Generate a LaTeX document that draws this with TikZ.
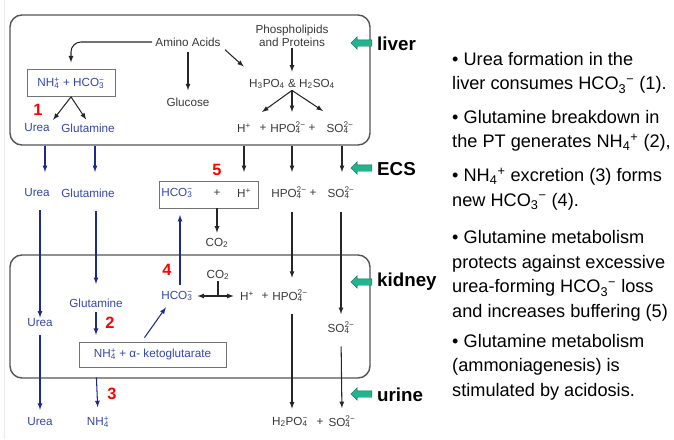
\documentclass[tikz,border=0pt]{standalone}
\usepackage{fontspec}
\setmainfont{Liberation Sans}
\usetikzlibrary{shapes.arrows}
\definecolor{txtgray}{HTML}{383838}
\definecolor{ionblue}{HTML}{3446A8}
\definecolor{arrblue}{HTML}{1C2A8C}
\definecolor{boxgray}{HTML}{555555}
\definecolor{tealgreen}{HTML}{22B48C}
\newcommand{\sbsp}[2]{%
  \setbox0=\hbox{\textsuperscript{#2}}%
  \setbox2=\hbox{\textsubscript{#1}}%
  \ifdim\wd0>\wd2 \rlap{\box2}\box0 \else\rlap{\box0}\box2 \fi}
\newcommand{\hcoiii}{HCO\sbsp{3}{−}}
\newcommand{\nhiv}{NH\sbsp{4}{+}}
\newcommand{\nhivtxt}{NH\textsubscript{4}\textsuperscript{+}}
\tikzset{
    chem/.style={text=txtgray, font=\fontsize{10}{12}\selectfont, inner sep=1pt},
    bchem/.style={chem, text=ionblue},
    arr/.style={-latex, line width=0.9pt, color=black!85},
    barr/.style={-latex, line width=0.9pt, color=arrblue},
    rnum/.style={text=red, font=\fontsize{14}{14}\selectfont\bfseries, inner sep=0pt},
    organ/.style={draw=boxgray, line width=1.2pt, rounded corners=3.6mm},
    ionbox/.style={draw=black!55, line width=0.7pt},
    site/.style={font=\fontsize{16}{16}\selectfont\bfseries, anchor=west, inner sep=0pt},
    greenarr/.style={single arrow, shape border rotate=180, fill=tealgreen,
        draw=tealgreen!60!black, line width=0.4pt, minimum height=6.3mm,
        minimum width=3.6mm, inner sep=0.9mm, single arrow head extend=0.9mm},
    bul/.style={anchor=west, align=left, inner sep=0pt,
        font=\fontsize{15.5}{20.9}\selectfont}
}
\begin{document}
\begin{tikzpicture}[x=0.3mm, y=-0.3mm]
                \useasboundingbox (0,0) rectangle (674,439);
                \draw[black!8, line width=0.8pt] (4,0) -- (4,439);
                \node[organ, minimum width=108mm, minimum height=39mm] (liver) at (190,80) {};
                \node[organ, minimum width=108mm, minimum height=36.9mm] (kidney) at (190,316.5) {};
                \node[chem] (amino) at (188,42) {Amino Acids};
                \node[chem, align=center, font=\fontsize{10}{11.5}\selectfont] (lipids) at (292,36) {Phospholipids\\and Proteins};
                \node[bchem, ionbox, minimum width=26.4mm, minimum height=8.1mm] (nhhco) at (71,83) {\nhiv{} + \hcoiii};
                \node[chem] (glucose) at (188,102) {Glucose};
                \node[chem] (acids) at (292,84) {H\textsubscript{3}PO\textsubscript{4} \& H\textsubscript{2}SO\textsubscript{4}};
                \node[chem] (hl) at (244,128) {H\textsuperscript{+}};
                \node[chem] (pl1) at (263,128) {+};
                \node[chem] (hpol) at (288,128) {HPO\sbsp{4}{2−}};
                \node[chem] (pl2) at (312,128) {+};
                \node[chem] (sol) at (340,128) {SO\sbsp{4}{2−}};
                \node[rnum] (n1) at (38,110) {1};
                \node[bchem] (urea1) at (37,128) {Urea};
                \node[bchem] (glut1) at (88,128) {Glutamine};
                \coordinate (fl) at (262,112);
                \coordinate (fr) at (323,111);
                \draw[arr, rounded corners=3mm, shorten <=0.6mm, shorten >=2mm] (amino.west) -| (nhhco.north);
                \draw[arr, shorten <=1.2mm, shorten >=1.8mm] (amino.south) -- (glucose.north);
                \draw[arr] ([shift={(3,2)}]amino.south east) -- ([shift={(-4,-11)}]acids.north west);
                \draw[arr, shorten >=1.8mm] (lipids.south) -- (acids.north);
                \draw[arr] (acids.south) -- (fl);
                \draw[arr] (acids.south) -- (acids.south |- fl);
                \draw[arr] (acids.south) -- (fr);
                \draw[arr, shorten >=1mm] (nhhco.south) -- (urea1.north east);
                \draw[arr, shorten >=1mm] (nhhco.south) -- (glut1.north);
                \node[bchem] (urea2) at (37,193) {Urea};
                \node[bchem] (glut2) at (88,193) {Glutamine};
                \node[ionbox, minimum width=29.7mm, minimum height=8.1mm] (ecsbox) at (208.5,194.5) {};
                \node[bchem] (hcoe) at (177,193) {\hcoiii};
                \node[chem] (ple) at (217,193) {+};
                \node[chem] (he) at (244,193) {H\textsuperscript{+}};
                \node[rnum] (n5) at (217,170) {5};
                \node[chem] (hpoe) at (289,193) {HPO\sbsp{4}{2−}};
                \node[chem] (pl3) at (313,193) {+};
                \node[chem] (soe) at (341,193) {SO\sbsp{4}{2−}};
                \node[chem] (co2a) at (217,243) {CO\textsubscript{2}};
                \coordinate (eu) at (45,172);
                \coordinate (eg) at (95,172);
                \coordinate (eh) at (244,172);
                \coordinate (ep) at (292,172);
                \coordinate (es) at (342,172);
                \draw[barr] (liver.south -| eu) -- (eu);
                \draw[barr] (liver.south -| eg) -- (eg);
                \draw[arr] (liver.south -| eh) -- (eh);
                \draw[arr] (liver.south -| ep) -- (ep);
                \draw[arr] (liver.south -| es) -- (es);
                \draw[arr, shorten >=1.2mm] (ecsbox.south -| co2a) -- (co2a.north);
                \node[bchem] (urea3) at (40,323) {Urea};
                \node[bchem] (glut3) at (96,303) {Glutamine};
                \node[rnum] (n2) at (110,323) {2};
                \node[bchem, ionbox, minimum width=44.1mm, minimum height=7.5mm] (keto) at (152.5,354.5) {\nhiv{} + α- ketoglutarate};
                \node[bchem] (hcok) at (177,296) {\hcoiii};
                \node[rnum] (n4) at (167,270) {4};
                \node[chem] (co2b) at (218,275) {CO\textsubscript{2}};
                \node[chem] (hk) at (247,296) {H\textsuperscript{+}};
                \node[chem] (pl4) at (265,296) {+};
                \node[chem] (hpok) at (290,296) {HPO\sbsp{4}{2−}};
                \node[chem] (sok) at (341,328) {SO\sbsp{4}{2−}};
                \node[bchem] (urea4) at (40,422) {Urea};
                \node[bchem] (nhout) at (98,422) {\nhiv};
                \node[rnum] (n3) at (112,394) {3};
                \node[chem] (h2po) at (290,422) {H\textsubscript{2}PO\sbsp{4}{−}};
                \node[chem] (pl5) at (320,422) {+};
                \node[chem] (sou) at (342,422) {SO\sbsp{4}{2−}};
                \coordinate (cb) at (180,215);
                \draw[barr, shorten <=3.6mm] (urea2.south -| urea3) -- (urea3.north);
                \draw[barr, shorten <=2mm, shorten >=2mm] (urea3.south) -- (urea4.north);
                \draw[barr, shorten <=3.6mm, shorten >=4mm] (glut2.south -| glut3) -- (glut3.north);
                \draw[barr, shorten <=1mm, shorten >=2mm] (glut3.south) -- (keto.north -| glut3);
                \draw[barr, shorten <=3mm, shorten >=2.4mm] (keto.south -| glut3) -- (nhout.north);
                \draw[barr] ([shift={(-8,-4)}]keto.north) -- ([shift={(6,5)}]hcok.south west);
                \draw[barr, shorten <=1.5mm] (hcok.north -| cb) -- (cb);
                \draw[arr, latex-latex, shorten <=1mm, shorten >=1.5mm] (hcok.east) -- (hk.west |- hcok.east);
                \draw[line width=0.9pt, black!85] (co2b.south) -- (co2b.south |- hcok.east);
                \draw[arr, shorten <=3.6mm, shorten >=3.3mm] (hpoe.south -| ep) -- (hpok.north -| ep);
                \draw[arr, shorten <=3.3mm, shorten >=2.1mm] (hpok.south -| ep) -- (h2po.north -| ep);
                \draw[arr, shorten <=3.6mm, shorten >=2mm] (soe.south) -- (sok.north);
                \draw[arr, shorten <=3.3mm, shorten >=2mm] (sok.south) -- (sou.north);
                \node[greenarr] (livarr) at (363,43) {};
                \node[greenarr] (ecsarr) at (363,168) {};
                \node[greenarr] (kidarr) at (363,282) {};
                \node[greenarr] (urinarr) at (363,394) {};
                \node[site] (livlab) at (377,44) {liver};
                \node[site] (ecslab) at (377,169) {ECS};
                \node[site] (kidlab) at (377,282) {kidney};
                \node[site] (urinlab) at (377,395) {urine};
                \node[bul] (b1) at (452,73) {• Urea formation in the\\liver consumes HCO\textsubscript{3}\textsuperscript{−} (1).};
                \node[bul] (b2) at (452,131) {• Glutamine breakdown in\\the PT generates \nhivtxt{} (2),};
                \node[bul] (b3) at (452,189) {• \nhivtxt{} excretion (3) forms\\new HCO\textsubscript{3}\textsuperscript{−} (4).};
                \node[bul] (b4) at (452,276) {• Glutamine metabolism\\protects against excessive\\urea-forming HCO\textsubscript{3}\textsuperscript{−} loss\\and increases buffering (5)};
                \node[bul] (b5) at (452,367) {• Glutamine metabolism\\(ammoniagenesis) is\\stimulated by acidosis.};
            \end{tikzpicture}
\end{document}
